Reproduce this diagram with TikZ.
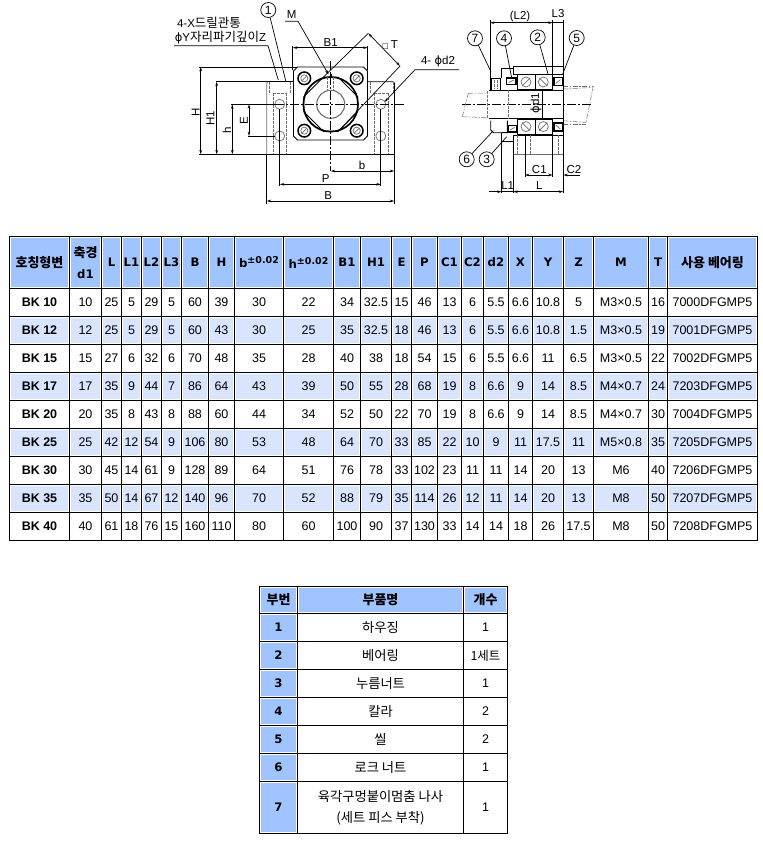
\documentclass[tikz,border=0pt]{standalone}
\usepackage{fontspec}
\setmainfont{Liberation Sans}
\newfontfamily\krfont{Noto Sans CJK KR}
\newfontfamily\djv{DejaVu Sans}
\newcommand{\kb}[1]{{\fontsize{13}{15}\selectfont\krfont\bfseries #1}}
\newcommand{\kr}[1]{{\fontsize{13.3}{15}\selectfont\krfont #1}}
\newcommand{\kd}[1]{{\fontsize{12.5}{14}\selectfont\krfont #1}}
\newcommand{\hb}[1]{{\fontsize{11.7}{14}\selectfont\djv\bfseries #1}}
\newcommand{\supt}[1]{\hb{#1\raisebox{4pt}{\fontsize{9.5}{10}\selectfont ±0.02}}}
\usetikzlibrary{arrows.meta}
\definecolor{headblue}{RGB}{160,196,255}
\definecolor{rowblue}{RGB}{217,229,255}
\definecolor{gridline}{RGB}{0,0,0}
\definecolor{hidgray}{RGB}{110,110,110}
\tikzset{
 x=1pt,y=-1pt,
 cellbox/.style={inner sep=0pt,outer sep=0pt,align=center,font=\fontsize{12.5}{14}\selectfont},
 dimline/.style={line width=.7pt,{Stealth[length=4.5pt,width=2.6pt]}-{Stealth[length=4.5pt,width=2.6pt]}},
 arrowend/.style={line width=.7pt,-{Stealth[length=4.5pt,width=2.6pt]}},
 extline/.style={line width=.7pt},
 objline/.style={line width=.9pt},
 heavyline/.style={line width=1.7pt},
 softline/.style={line width=.7pt,hidgray},
 phantomline/.style={line width=.5pt,hidgray,dash pattern=on 5pt off 1.5pt on 1.5pt off 1.5pt},
 hidline/.style={line width=.7pt,hidgray,dash pattern=on 2.5pt off 1.5pt},
 centerline/.style={line width=.7pt,dash pattern=on 9pt off 2pt on 2pt off 2pt},
 numcircle/.style={circle,draw,line width=.7pt,minimum size=15pt,inner sep=0pt,font=\fontsize{12}{13}\selectfont},
 dimtext/.style={inner sep=0pt,font=\fontsize{11.5}{13}\selectfont},
}
\def\colx{{9.5,69.5,101.5,121.5,141.5,161.5,181.5,208.5,234.5,283.5,333.5,360.5,391.5,411.5,437.5,461.5,483.5,508.5,532.5,563.5,593.5,648.5,667.5,757.5}}
\def\colz{{259.5,297.5,463.5,507.5}}
% #1 row name, #2 top, #3 bottom, #4 fill for all, #5 items
\newcommand{\bigrow}[5]{%
 \foreach \t [count=\c from 0] in {#5} {%
  \pgfmathsetmacro\xa{\colx[\c]}%
  \pgfmathtruncatemacro\cn{\c+1}%
  \pgfmathsetmacro\xb{\colx[\cn]}%
  \draw[line width=1pt,gridline] (\xa,#2) rectangle (\xb,#3);
  \node[cellbox,fill=#4,minimum width={\xb-\xa-3pt},minimum height={#3-#2-3pt}] (#1c\c) at ({(\xa+\xb)/2},{(#2+#3)/2}) {\t};
 }}
\newcommand{\partrow}[6]{%
 \foreach \c/\t/\f in {0/{#5}/headblue,1/{#6}/white} {%
  \pgfmathsetmacro\xa{\colz[\c]}%
  \pgfmathtruncatemacro\cn{\c+1}%
  \pgfmathsetmacro\xb{\colz[\cn]}%
  \draw[line width=1pt,gridline] (\xa,#2) rectangle (\xb,#3);
  \node[cellbox,fill=\f,minimum width={\xb-\xa-3pt},minimum height={#3-#2-3pt}] (#1c\c) at ({(\xa+\xb)/2},{(#2+#3)/2}) {\t};
 }%
 \draw[line width=1pt,gridline] (463.5,#2) rectangle (507.5,#3);
 \node[cellbox] (#1c2) at (485.5,{(#2+#3)/2}) {#4};
}
\newcommand{\seal}[4]{%
 \draw[line width=1.5pt] (#1,#2) rectangle (#3,#4);
 \draw[softline] (#1+2,#4-2) -- (#3-2,#2+2);
}
\newcommand{\bearingset}{%
 \draw[objline] (517.7,74) rectangle (552.7,89.3);
 \draw[objline] (535,74) -- (535,89.3);
 \draw[softline] (526,82) circle [radius=5];
 \draw[softline] (543.3,82) circle [radius=5];
 \draw[softline] (522,86) -- (530,78);
 \draw[softline] (539.3,78) -- (547.3,86);
 \seal{553.8}{77.7}{562.3}{85.5}
}
\begin{document}
\begin{tikzpicture}
\useasboundingbox (0,0) rectangle (763,844);

% ---------- main table
\bigrow{h}{236.5}{288.5}{headblue}{\kb{호칭형변},\kb{축경}\\[7pt]\hb{d1},\hb{L},\hb{L1},\hb{L2},\hb{L3},\hb{B},\hb{H},\supt{b},\supt{h},\hb{B1},\hb{H1},\hb{E},\hb{P},\hb{C1},\hb{C2},\hb{d2},\hb{X},\hb{Y},\hb{Z},\hb{M},\hb{T},\kb{사용 베어링}}
\bigrow{a}{288.5}{316.5}{white}{\textbf{BK 10},10,25,5,29,5,60,39,30,22,34,32.5,15,46,13,6,5.5,6.6,10.8,5,M3×0.5,16,7000DFGMP5}
\bigrow{b}{316.5}{344.5}{rowblue}{\textbf{BK 12},12,25,5,29,5,60,43,30,25,35,32.5,18,46,13,6,5.5,6.6,10.8,1.5,M3×0.5,19,7001DFGMP5}
\bigrow{c}{344.5}{372.5}{white}{\textbf{BK 15},15,27,6,32,6,70,48,35,28,40,38,18,54,15,6,5.5,6.6,11,6.5,M3×0.5,22,7002DFGMP5}
\bigrow{d}{372.5}{400.5}{rowblue}{\textbf{BK 17},17,35,9,44,7,86,64,43,39,50,55,28,68,19,8,6.6,9,14,8.5,M4×0.7,24,7203DFGMP5}
\bigrow{e}{400.5}{428.5}{white}{\textbf{BK 20},20,35,8,43,8,88,60,44,34,52,50,22,70,19,8,6.6,9,14,8.5,M4×0.7,30,7004DFGMP5}
\bigrow{f}{428.5}{456.5}{rowblue}{\textbf{BK 25},25,42,12,54,9,106,80,53,48,64,70,33,85,22,10,9,11,17.5,11,M5×0.8,35,7205DFGMP5}
\bigrow{g}{456.5}{484.5}{white}{\textbf{BK 30},30,45,14,61,9,128,89,64,51,76,78,33,102,23,11,11,14,20,13,M6,40,7206DFGMP5}
\bigrow{i}{484.5}{512.5}{rowblue}{\textbf{BK 35},35,50,14,67,12,140,96,70,52,88,79,35,114,26,12,11,14,20,13,M8,50,7207DFGMP5}
\bigrow{j}{512.5}{540.5}{white}{\textbf{BK 40},40,61,18,76,15,160,110,80,60,100,90,37,130,33,14,14,18,26,17.5,M8,50,7208DFGMP5}

% ---------- parts table
\foreach \c/\t in {0/부번,1/부품명,2/개수} {%
  \pgfmathsetmacro\xa{\colz[\c]}%
  \pgfmathtruncatemacro\cn{\c+1}%
  \pgfmathsetmacro\xb{\colz[\cn]}%
  \draw[line width=1pt,gridline] (\xa,586.5) rectangle (\xb,613.5);
  \node[cellbox,fill=headblue,minimum width={\xb-\xa-3pt},minimum height=24pt] (pc\c) at ({(\xa+\xb)/2},600) {\kb{\t}};
}
\partrow{pa}{613.5}{641.5}{1}{\hb{1}}{\kr{하우징}}
\partrow{pb}{641.5}{669.5}{\kd{1세트}}{\hb{2}}{\kr{베어링}}
\partrow{pd}{669.5}{697.5}{1}{\hb{3}}{\kr{누름너트}}
\partrow{pe}{697.5}{725.5}{2}{\hb{4}}{\kr{칼라}}
\partrow{pf}{725.5}{753.5}{2}{\hb{5}}{\kr{씰}}
\partrow{pg}{753.5}{781.5}{1}{\hb{6}}{\kr{로크 너트}}
\partrow{ph}{781.5}{833.5}{1}{\hb{7}}{\kr{육각구멍붙이멈춤 나사}\\[7pt]\kr{(세트 피스 부착)}}

% ---------- front view: body
\coordinate (ctr) at (330.7,104.3);
\draw[softline] (266.7,154.3) -- (266.7,83) -- (268,81.7);
\draw[objline] (268,81.7) -- (293.5,81.7);
\draw[objline] (367.5,81.7) -- (393,81.7) -- (394.3,83);
\draw[objline] (394.3,83) -- (394.3,154.3);
\draw[objline] (266.7,154.3) -- (394.3,154.3);
\draw[objline] (297.5,67) -- (363.5,67) -- (367.5,71) -- (367.5,136) -- (363.5,140) -- (297.5,140) -- (293.5,136) -- (293.5,71) -- cycle;
% hidden holes
\foreach \xa/\xb/\xc/\xd in {269.3/290/273.3/286.7,370.5/393/374/388} {
 \draw[hidline] (\xa,82) -- (\xa,93);
 \draw[hidline] (\xb,82) -- (\xb,93);
 \draw[hidline] (\xc,93) -- (\xd,93);
 \draw[hidline] (\xc,93) -- (\xc,154);
 \draw[hidline] (\xd,93) -- (\xd,154);
}
\foreach \hx/\hy in {279.7/104.3,279.7/136,380.8/104.3,380.8/136}
 \draw[softline,fill=white] (\hx,\hy) circle [radius=5];
% bolts
\foreach \bx/\by in {304.3/78.3,356.7/78.3,304.3/130.7,356.7/130.7} {
 \draw[line width=1.5pt] (\bx,\by) circle [radius=6.3];
 \draw[softline] (\bx,\by) circle [radius=3.6];
 \draw[softline] (\bx-2.5,\by+2.5) -- (\bx+2.5,\by-2.5);
}
% nut and bore
\draw[objline] (323.2,77.3) -- (303.7,96.8) -- (303.7,111.8) -- (323.2,131.3) -- (338.2,131.3) -- (357.7,111.8) -- (357.7,96.8) -- (338.2,77.3) -- cycle;
\draw[heavyline] (ctr) circle [radius=27.3];
\draw[line width=1.1pt,hidgray] (ctr) circle [radius=14];
\draw[hidline] (327.7,77) -- (327.7,90);
\draw[hidline] (333.5,77) -- (333.5,90);
\fill (329.5,74) rectangle (332,77);
% centre lines
\draw[centerline] (245,104.3) -- (404,104.3);
\draw[centerline] (330.7,61) -- (330.7,171);
% extension lines
\draw[extline] (199,66.9) -- (297,66.9);
\draw[extline] (215.5,81.7) -- (268,81.7);
\draw[extline] (199,154.3) -- (266.7,154.3);
\draw[extline] (231,104.3) -- (275,104.3);
\draw[extline] (248,136) -- (275,136);
\draw[extline] (279.7,109) -- (279.7,186);
\draw[extline] (380.8,109) -- (380.8,186);
\draw[extline] (266.7,154.3) -- (266.7,204);
\draw[extline] (394.3,154.3) -- (394.3,204);
\draw[extline] (292.8,46) -- (292.8,70);
\draw[extline] (367.7,46) -- (367.7,70);
% dimensions
\draw[dimline] (200.7,66.9) -- (200.7,154.3);
\draw[dimline] (216.7,81.7) -- (216.7,154.3);
\draw[dimline] (232.3,104.3) -- (232.3,154.3);
\draw[dimline] (249,104.3) -- (249,136);
\draw[dimline] (292.8,47.7) -- (367.7,47.7);
\draw[dimline] (330.7,171) -- (394.3,171);
\draw[dimline] (279.7,184.3) -- (380.8,184.3);
\draw[dimline] (266.7,201) -- (394.3,201);
\coordinate (tA) at (368.3,33.3);
\coordinate (tB) at (400,66);
\draw[dimline] (tA) -- (tB);
\draw[extline] (tA) -- (323.2,77.3);
\draw[extline] (tB) -- (338.2,131.3);
\node[dimtext,rotate=90] (lH) at (195.7,112.7) {H};
\node[dimtext,rotate=90] (lHa) at (210.5,118) {H1};
\node[dimtext,rotate=90] (lh) at (227,130.7) {h};
\node[dimtext,rotate=90] (lE) at (244,120.7) {E};
\node[dimtext] (lBa) at (330.7,42.3) {B1};
\node[dimtext] (lb) at (362,165.7) {b};
\node[dimtext] (lP) at (325.7,178.5) {P};
\node[dimtext] (lB) at (328.3,195.7) {B};
\node[dimtext] (lT) at (390,45) {\djv\fontsize{7}{8}\selectfont □\ \fontsize{11.5}{13}\selectfont\rmfamily T};
% leaders, front view
\node[numcircle] (n1) at (268.3,10) {1};
\draw[extline] (n1) -- (286,82);
\node[inner sep=0pt,font=\fontsize{11.5}{13}\selectfont] (t4x) at (209,23.3) {4-X\kd{드릴관통}};
\node[inner sep=0pt,font=\fontsize{11.5}{13}\selectfont] (tphi) at (220.5,37.7) {{\djv ϕ}Y\kd{자리파기깊이}Z};
\coordinate (ua) at (174,45.7);
\coordinate (ub) at (268,45.7);
\draw[extline] (ua) -- (ub) -- (278.3,80);
\node[dimtext] (lM) at (291.7,15) {M};
\coordinate (ma) at (285,21.3);
\coordinate (mb) at (298,21.3);
\draw[arrowend] (ma) -- (mb) -- (328.5,74.5);
\node[dimtext] (ld) at (438,61.5) {4- {\djv ϕ}d2};
\coordinate (da) at (459,69.7);
\coordinate (db) at (415,69.7);
\draw[arrowend] (da) -- (db) -- (384.5,102);

% ---------- side view
\draw[centerline] (462,104.3) -- (592,104.3);
% phantom shaft
\draw[phantomline] (468.3,93.3) -- (487,93);
\draw[phantomline] (462.3,116.7) -- (487,117.7);
\draw[phantomline] (468.3,93.3) -- (462.3,116.7);
\draw[phantomline] (563.3,86) -- (593.3,86);
\draw[phantomline] (563.3,89) -- (592,87.5);
\draw[phantomline] (593.3,86) -- (586,122.5);
\draw[phantomline] (563.3,120.7) -- (586,122.5);
\draw[phantomline] (563.3,124) -- (586,124);
% shaft
\draw[objline] (489,90) -- (563.3,90);
\draw[objline] (489,118.7) -- (563.3,118.7);
\draw[hidline] (487.7,91) -- (487.7,118);
\draw[hidline] (508.3,90) -- (508.3,118.7);
\draw[objline] (542.7,90) -- (542.7,118.7);
% housing top
\draw[objline] (513.3,74) -- (513.3,66.7) -- (563.3,66.7) -- (563.3,74);
\draw[objline] (513.3,74) -- (563.3,74);
\draw[objline] (501.7,78) -- (501.7,68.3) -- (513.3,68.3);
% upper and lower bearings
\bearingset
\begin{scope}[shift={(0,208.6)},yscale=-1]
 \bearingset
\end{scope}
% collars and nuts
\seal{506.5}{78}{516}{84.5}
\seal{508}{125.5}{516.5}{132}
\draw[objline] (491.7,78.3) rectangle (500,90);
\draw[hidline] (494.5,80) -- (494.5,89);
\draw[hidline] (497.5,80) -- (497.5,89);
\draw[objline] (490.7,120.7) -- (490.7,130) -- (493.5,132.7) -- (507.3,132.7) -- (507.3,120.7);
% housing lower
\draw[objline] (513.3,135) -- (563.3,135);
\draw[softline] (513.3,154.3) -- (563.3,154.3);
\draw[objline] (501.7,132.7) -- (517.7,132.7);
\draw[extline] (501.7,141.7) -- (513.3,141.7);
\foreach \hx in {517.3,530.7,558}
 \draw[hidline] (\hx,135) -- (\hx,154);
% extension lines
\draw[extline] (490,20) -- (490,90);
\draw[extline] (552.7,20) -- (552.7,74);
\draw[extline] (563.3,20) -- (563.3,193);
\draw[extline] (552.7,135) -- (552.7,176.5);
\draw[extline] (525,135) -- (525,176.5);
\draw[extline] (501.7,132.7) -- (501.7,193);
\draw[extline] (513.3,135) -- (513.3,193);
% dimensions
\draw[dimline] (490,22.7) -- (552.7,22.7);
\draw[extline] (552.7,22.7) -- (563.3,22.7);
\draw[dimline] (525,175) -- (552.7,175);
\draw[arrowend] (580,175) -- (563.3,175);
\draw[arrowend] (489.3,191.7) -- (501.7,191.7);
\draw[dimline] (513.3,191.7) -- (563.3,191.7);
\draw[extline] (501.7,191.7) -- (513.3,191.7);
\node[dimtext] (lLb) at (520,16.7) {(L2)};
\node[dimtext] (lLc) at (558,14) {L3};
\node[dimtext] (lCa) at (539.3,170) {C1};
\node[dimtext] (lCb) at (574,170) {C2};
\node[dimtext] (lL) at (539.3,186) {L};
\node[dimtext] (lLa) at (507.7,186) {L1};
\node[dimtext,rotate=90] (ldo) at (536,103) {\djv ϕ\rmfamily d1};
% numbered leaders, side view
\node[numcircle] (n7) at (475,38.3) {7};
\node[numcircle] (n4) at (504,38.3) {4};
\node[numcircle] (n2) at (537.7,37.3) {2};
\node[numcircle] (n5) at (576.7,38) {5};
\node[numcircle] (n6) at (466.7,159.3) {6};
\node[numcircle] (n3) at (486.7,159.3) {3};
\coordinate (e7) at (491,71.7);
\coordinate (e4) at (511.7,78);
\coordinate (e2) at (548.3,75);
\coordinate (e5) at (562.3,75);
\coordinate (e6) at (493.3,130.7);
\coordinate (e3) at (506.7,136.7);
\foreach \a/\b in {n7/e7,n4/e4,n2/e2,n5/e5,n6/e6,n3/e3}
 \draw[extline] (\a) -- (\b);
\end{tikzpicture}
\end{document}
